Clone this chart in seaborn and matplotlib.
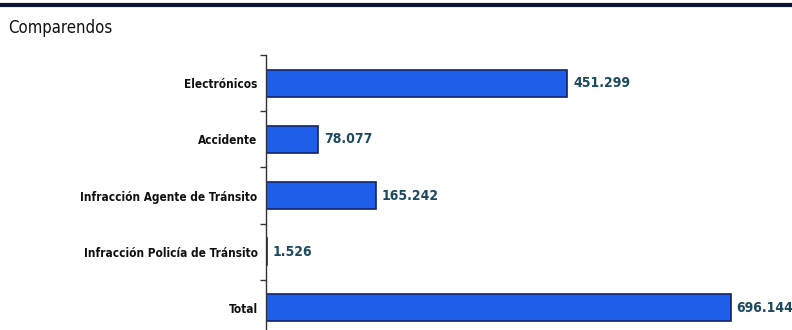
import matplotlib
matplotlib.use("Agg")
import matplotlib.pyplot as plt
import seaborn as sns
import pandas as pd
from matplotlib.lines import Line2D
from matplotlib.ticker import FixedLocator

categories = ["Electrónicos", "Accidente", "Infracción Agente de Tránsito",
              "Infracción Policía de Tránsito", "Total"]
values = [451299, 78077, 165242, 1526, 696144]
value_labels = ["451.299", "78.077", "165.242", "1.526", "696.144"]

sns.set_theme(style="white")
plt.rcParams["font.family"] = ["DejaVu Sans"]
plt.rcParams["font.stretch"] = "condensed"

df = pd.DataFrame({"cat": categories, "val": values})

fig = plt.figure(figsize=(7.92, 3.30), dpi=100)
ax = fig.add_axes([266/792, -6/330, (792-266)/792, (336-55)/330])

sns.barplot(data=df, y="cat", x="val", ax=ax, color="#1f5ee8",
            edgecolor="#14236a", linewidth=1.2, width=0.48, saturation=1)

ax.set_xlim(0, 526/0.000668)
ax.set_xlabel("")
ax.set_ylabel("")
ax.set_xticks([])
for s in ["top", "right", "bottom"]:
    ax.spines[s].set_visible(False)
ax.spines["left"].set_color("#333333")
ax.spines["left"].set_linewidth(1.0)

ax.tick_params(axis="y", which="major", length=0, pad=6)
ax.yaxis.set_minor_locator(FixedLocator([i - 0.5 for i in range(len(categories) + 1)]))
ax.tick_params(axis="y", which="minor", length=4, width=1, color="#333333", left=True)
for lbl in ax.get_yticklabels():
    lbl.set_fontsize(8.5)
    lbl.set_fontweight("bold")
    lbl.set_fontstretch("condensed")
    lbl.set_color("#111111")

for i, (v, t) in enumerate(zip(values, value_labels)):
    ax.annotate(t, xy=(v, i), xytext=(4, 0), textcoords="offset points",
                va="center", ha="left", fontsize=10, fontweight="bold",
                fontstretch="condensed", color="#1c4a5e")

fig.add_artist(Line2D([0, 1], [1 - 5/330, 1 - 5/330], transform=fig.transFigure,
                      color="#0d1530", linewidth=3))
fig.text(8/792, 1 - 28/330, "Comparendos", fontsize=12, color="#111111",
         fontstretch="condensed", va="center", ha="left")

fig.savefig("out.png", dpi=100)
